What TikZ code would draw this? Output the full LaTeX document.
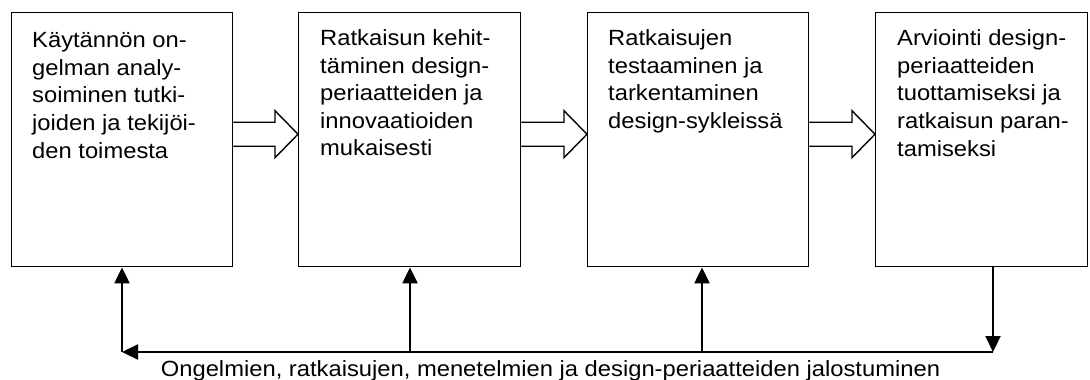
\documentclass[tikz,border=0pt]{standalone}
\usepackage{fontspec}
\setmainfont[FakeStretch=1.08]{Liberation Sans}
\usetikzlibrary{arrows.meta,calc}

% hollow block arrow from the east side of one box to the west side of the next
\newcommand{\blockarrow}[2]{%
  \draw[blk] let \p1=($(#1.east)+(0,-5.5)$), \p2=($(#2.west)+(0,-5.5)$) in
    (\x1,\y1+12pt) -- (\x2-23pt,\y1+12pt) -- (\x2-23pt,\y1+23.5pt) -- (\x2,\y1)
    -- (\x2-23pt,\y1-23.5pt) -- (\x2-23pt,\y1-12pt) -- (\x1,\y1-12pt);}

\begin{document}
\begin{tikzpicture}[x=1pt,y=-1pt,
  box/.style={draw, line width=1.4pt, anchor=north west, minimum width=#1,
    minimum height=254pt, inner sep=0pt},
  txt/.style={anchor=base west, inner sep=0pt, font=\fontsize{22}{27.6}\selectfont},
  blk/.style={draw, line width=1.4pt, line join=miter},
  fb/.style={line width=2.2pt},
  tip/.style={-{Triangle[length=16pt,width=15pt]}}]
\useasboundingbox (0,0) rectangle (1090,380);

% process stages
\node[box=221pt] (b1) at (11,12) {};
\node[box=222pt] (b2) at (298,12) {};
\node[box=221pt] (b3) at (587,12) {};
\node[box=212pt] (b4) at (875,12) {};

\node[txt] (t1) at (32,47.7) {\parbox[t]{240pt}{\raggedright
  Käytännön on-\\gelman analy-\\soiminen tutki-\\joiden ja tekijöi-\\den toimesta}};
\node[txt] (t2) at (320,45.5) {\parbox[t]{240pt}{\raggedright
  Ratkaisun kehit-\\täminen design-\\periaatteiden ja\\innovaatioiden\\mukaisesti}};
\node[txt] (t3) at (608,45.7) {\parbox[t]{240pt}{\raggedright
  Ratkaisujen\\testaaminen ja\\tarkentaminen\\design-sykleissä}};
\node[txt] (t4) at (897,45.7) {\parbox[t]{240pt}{\raggedright
  Arviointi design-\\periaatteiden\\tuottamiseksi ja\\ratkaisun paran-\\tamiseksi}};

% forward flow
\blockarrow{b1}{b2}
\blockarrow{b2}{b3}
\blockarrow{b3}{b4}

% feedback loop
\coordinate (fr) at (993,352);
\coordinate (fl) at (122,352);
\coordinate (j2) at (410,352);
\coordinate (j3) at (702,352);

\draw[fb, tip] (b4.south -| fr) -- (fr);
\draw[fb, tip] (fr) -- (fl);
\draw[fb, tip] (fl) -- (b1.south -| fl);
\draw[fb, tip] (j2) -- (b2.south -| j2);
\draw[fb, tip] (j3) -- (b3.south -| j3);

\node[anchor=base, inner sep=0pt, font=\fontsize{22}{26}\selectfont] (lbl) at (550.5,376.7)
  {Ongelmien, ratkaisujen, menetelmien ja design-periaatteiden jalostuminen};
\end{tikzpicture}
\end{document}
